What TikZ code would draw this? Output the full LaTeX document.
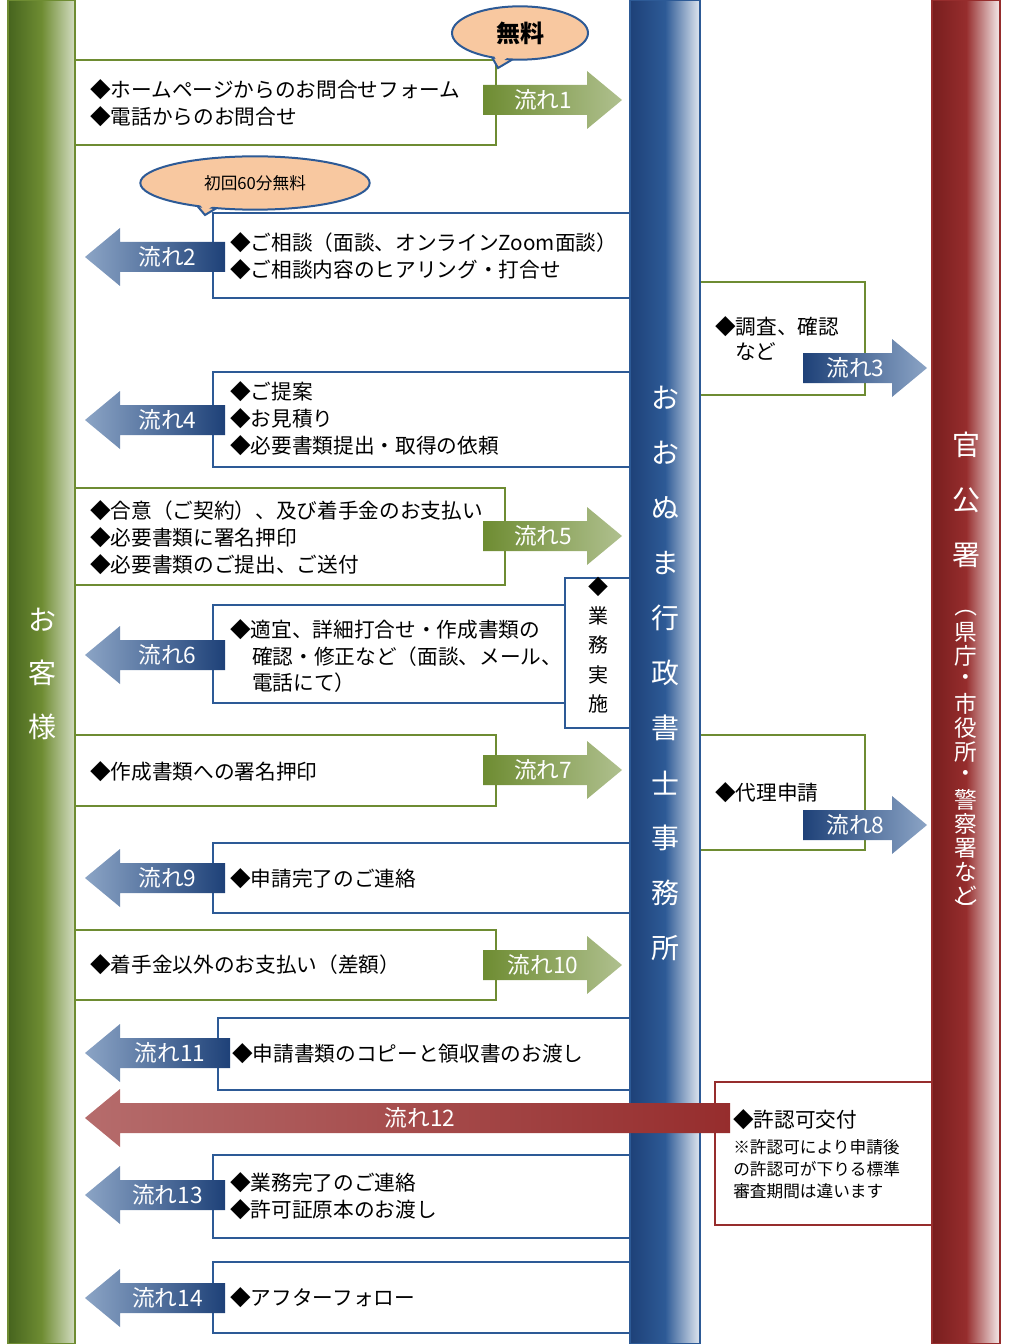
\documentclass[tikz,border=0pt]{standalone}
\usepackage{fontspec}
\setmainfont{Noto Sans CJK JP}
\usetikzlibrary{shapes.geometric}
\definecolor{gr}{RGB}{110,140,50}
\definecolor{grd}{RGB}{70,100,30}
\definecolor{bl}{RGB}{45,90,150}
\definecolor{bld}{RGB}{30,65,120}
\definecolor{rd}{RGB}{150,45,45}
\definecolor{rdd}{RGB}{120,30,30}
\definecolor{bub}{RGB}{248,200,160}
\tikzset{
 gbox/.style={draw=gr,line width=2.2pt,fill=white},
 bbox/.style={draw=bl,line width=2.2pt,fill=white},
 rbox/.style={draw=rd,line width=2.2pt,fill=white},
 txt/.style={anchor=west,font=\fontsize{15.5}{20}\selectfont,inner sep=0pt,align=left},
 albl/.style={text=white,font=\fontsize{17}{18}\selectfont,inner sep=0pt},
 vtxt/.style={text=white,font=\fontsize{21}{24}\selectfont,inner sep=0pt},
}
\newcommand{\RArr}[5]{% x1 x2 yc label colors
 \shade[#5] (#1,{#3-15}) -- ({#2-35},{#3-15}) -- ({#2-35},{#3-29}) -- (#2,#3) -- ({#2-35},{#3+29}) -- ({#2-35},{#3+15}) -- (#1,{#3+15}) -- cycle;
 \node[albl] at ({(#1+#2-35)/2+8},#3) {#4};}
\newcommand{\LArr}[5]{% x1(tip) x2 yc label colors
 \shade[#5] (#2,{#3-15}) -- ({#1+35},{#3-15}) -- ({#1+35},{#3-29}) -- (#1,#3) -- ({#1+35},{#3+29}) -- ({#1+35},{#3+15}) -- (#2,{#3+15}) -- cycle;
 \node[albl] at ({(#1+35+#2)/2-5},#3) {#4};}
\begin{document}
\begin{tikzpicture}[x=0.75pt,y=-0.75pt]
\useasboundingbox (0,0) rectangle (1008,1344);
% boxes
\draw[gbox] (60,60) rectangle (496,145);
\node[txt] (t1) at (90,90) {◆ホームページからのお問合せフォーム};
\node[txt] (t1b) at (90,117) {◆電話からのお問合せ};
\draw[bbox] (213,213) rectangle (650,298);
\node[txt] (t2) at (230,243) {◆ご相談（面談、オンラインZoom面談）};
\node[txt] (t2b) at (230,270) {◆ご相談内容のヒアリング・打合せ};
\draw[gbox] (690,282) rectangle (865,395);
\node[txt] (t3) at (715,327) {◆調査、確認};
\node[txt] (t3b) at (735,352) {など};
\draw[bbox] (213,372) rectangle (650,467);
\node[txt] (t4) at (230,392) {◆ご提案};
\node[txt] (t4b) at (230,419) {◆お見積り};
\node[txt] (t4c) at (230,446) {◆必要書類提出・取得の依頼};
\draw[gbox] (60,488) rectangle (505,585);
\node[txt] (t5) at (90,511) {◆合意（ご契約）、及び着手金のお支払い};
\node[txt] (t5b) at (90,538) {◆必要書類に署名押印};
\node[txt] (t5c) at (90,565) {◆必要書類のご提出、ご送付};
\draw[bbox] (565,578) rectangle (650,728);
\node[font=\fontsize{15}{22}\selectfont,align=center,inner sep=0pt] (t6v) at (598,645) {◆\\業\\務\\実\\施};
\draw[bbox] (213,605) rectangle (565,703);
\node[txt] (t6) at (230,630) {◆適宜、詳細打合せ・作成書類の};
\node[txt] (t6b) at (252,657) {確認・修正など（面談、メール、};
\node[txt] (t6c) at (252,683) {電話にて）};
\draw[gbox] (60,735) rectangle (496,806);
\node[txt] (t7) at (90,772) {◆作成書類への署名押印};
\draw[gbox] (690,735) rectangle (865,850);
\node[txt] (t8) at (715,793) {◆代理申請};
\draw[bbox] (213,843) rectangle (650,913);
\node[txt] (t9) at (230,879) {◆申請完了のご連絡};
\draw[gbox] (60,930) rectangle (496,1000);
\node[txt] (t10) at (90,965) {◆着手金以外のお支払い（差額）};
\draw[bbox] (218,1018) rectangle (650,1090);
\node[txt] (t11) at (232,1054) {◆申請書類のコピーと領収書のお渡し};
\draw[rbox] (715,1082) rectangle (950,1225);
\node[txt] (t12) at (733,1120) {◆許認可交付};
\node[txt,font=\fontsize{12.5}{16.5}\selectfont] (t12b) at (733,1169) {※許認可により申請後\\の許認可が下りる標準\\審査期間は違います};
\draw[bbox] (213,1155) rectangle (650,1238);
\node[txt] (t13) at (230,1183) {◆業務完了のご連絡};
\node[txt] (t13b) at (230,1210) {◆許可証原本のお渡し};
\draw[bbox] (213,1262) rectangle (650,1333);
\node[txt] (t14) at (230,1298) {◆アフターフォロー};
% columns
\shade[left color=grd,right color=gr!30,middle color=gr] (8,0) rectangle (75,1344);
\draw[gr,line width=1pt] (8,0) rectangle (75,1344);
\shade[left color=bld,right color=bl!15,middle color=bl] (630,0) rectangle (700,1344);
\draw[bl,line width=1.5pt] (630,0) rectangle (700,1344);
\shade[left color=rdd,right color=rd!10,middle color=rd] (932,0) rectangle (1000,1344);
\draw[rd,line width=1.5pt] (932,0) rectangle (1000,1344);
% column texts
\node[vtxt] (c1) at (42,620) {お};
\node[vtxt] (c2) at (42,673) {客};
\node[vtxt] (c3) at (42,727) {様};
\foreach \ch [count=\i] in {お,お,ぬ,ま,行,政,書,士,事,務,所}
  \node[vtxt] (o\i) at (665,{398+(\i-1)*55}) {\ch};
\node[vtxt] (k1) at (966,445) {官};
\node[vtxt] (k2) at (966,500) {公};
\node[vtxt] (k3) at (966,555) {署};
\node[vtxt,rotate=-90,font=\fontsize{17}{18}\selectfont] (p1) at (966,606) {（};
\foreach \ch [count=\i] in {県,庁,・,市,役,所,・,警,察,署,な,ど}
  \node[vtxt,font=\fontsize{17}{18}\selectfont] (q\i) at (966,{632+(\i-1)*24}) {\ch};
\node[vtxt,rotate=-90,font=\fontsize{17}{18}\selectfont] (p2) at (966,910) {）};
% arrows
\RArr{483}{622}{100}{流れ1}{left color=gr,right color=gr!55}
\LArr{85}{225}{257}{流れ2}{left color=bl!55,right color=bld}
\RArr{803}{927}{368}{流れ3}{left color=bld,right color=bl!55}
\LArr{85}{225}{420}{流れ4}{left color=bl!55,right color=bld}
\RArr{483}{622}{536}{流れ5}{left color=gr,right color=gr!55}
\LArr{85}{225}{655}{流れ6}{left color=bl!55,right color=bld}
\RArr{483}{622}{770}{流れ7}{left color=gr,right color=gr!55}
\RArr{803}{927}{825}{流れ8}{left color=bld,right color=bl!55}
\LArr{85}{225}{878}{流れ9}{left color=bl!55,right color=bld}
\RArr{483}{622}{965}{流れ10}{left color=gr,right color=gr!55}
\LArr{85}{230}{1053}{流れ11}{left color=bl!55,right color=bld}
\LArr{85}{730}{1118}{流れ12}{left color=rd!70,right color=rd}
\LArr{85}{225}{1195}{流れ13}{left color=bl!55,right color=bld}
\LArr{85}{225}{1298}{流れ14}{left color=bl!55,right color=bld}
% bubbles
\filldraw[fill=bub,draw=bl,line width=1.5pt] (488,50) -- (498,68) -- (520,55) -- cycle;
\node[ellipse,fill=bub,draw=bl,line width=1.5pt,inner sep=0pt,minimum width=102pt,minimum height=40pt,font=\fontsize{18}{20}\selectfont\bfseries] (b1) at (520,33) {無料};
\fill[bub] (491,49) -- (498,64) -- (516,52) -- cycle;
\filldraw[fill=bub,draw=bl,line width=1.5pt] (188,195) -- (205,215) -- (225,203) -- cycle;
\node[ellipse,fill=bub,draw=bl,line width=1.5pt,inner sep=0pt,minimum width=172pt,minimum height=40pt,font=\fontsize{12.5}{14}\selectfont] (b2) at (255,183) {初回60分無料};
\fill[bub] (192,195) -- (205,211) -- (221,201) -- cycle;
\end{tikzpicture}
\end{document}
